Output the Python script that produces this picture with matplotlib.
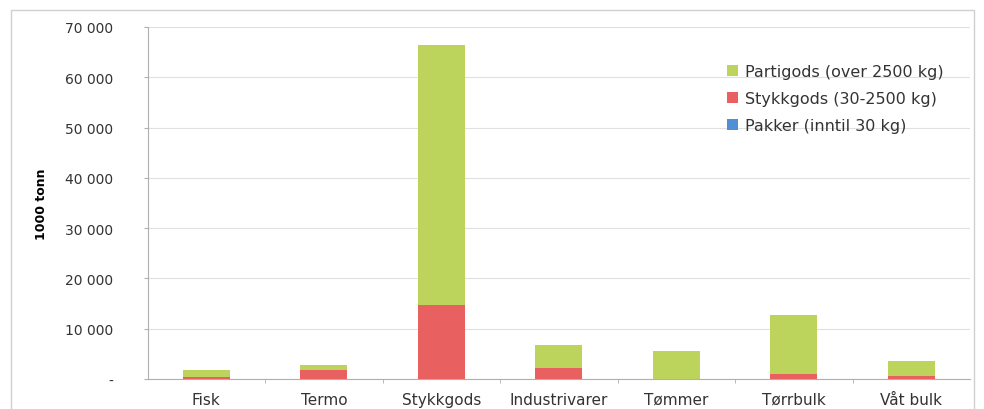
import matplotlib.pyplot as plt
from matplotlib.lines import Line2D

# Kategorier og verdier (1000 tonn)
kategorier = ["Fisk", "Termo", "Stykkgods", "Industrivarer", "Tømmer", "Tørrbulk", "Våt bulk"]
pakker = [10, 10, 20, 10, 5, 5, 5]
stykkgods = [450, 1850, 14700, 2100, 100, 1100, 650]
partigods = [1400, 950, 51700, 4700, 5400, 11600, 2850]

serier = ["Pakker (inntil 30 kg)", "Stykkgods (30-2500 kg)", "Partigods (over 2500 kg)"]
farger = ["#4f8fd6", "#e8605f", "#bcd35c"]
yticks = [0, 10000, 20000, 30000, 40000, 50000, 60000, 70000]

fig = plt.figure(figsize=(9.84, 4.1), dpi=100)
# ramme rundt diagrammet (bunnen er utenfor bildet)
ramme = Line2D([0.011, 0.011, 0.990, 0.990], [0.0, 0.972, 0.972, 0.0],
               transform=fig.transFigure, color="#d0d0d0", linewidth=1)
fig.lines.append(ramme)
ax = fig.add_axes([0.150, 0.073, 0.836, 0.859])

x = list(range(len(kategorier)))
bunn = [0] * len(x)
handles = []
for navn, verdier, farge in zip(serier, [pakker, stykkgods, partigods], farger):
    b = ax.bar(x, verdier, width=0.4, bottom=bunn, color=farge, label=navn, zorder=3)
    handles.append(b)
    bunn = [a + v for a, v in zip(bunn, verdier)]

ax.set_xlim(-0.5, len(x) - 0.5)
ax.set_ylim(0, 70000)
ax.set_yticks(yticks)
ax.set_yticklabels(["-"] + [f"{v:,}".replace(",", " ") for v in yticks[1:]])
ax.set_xticks(x)
ax.set_xticklabels(kategorier)
ax.set_xticks([i + 0.5 for i in x[:-1]], minor=True)
ax.tick_params(axis="x", which="major", length=0, pad=9, labelsize=11, colors="#333333")
ax.tick_params(axis="x", which="minor", length=3, color="#b0b0b0")
ax.tick_params(axis="y", length=3, color="#b0b0b0", labelsize=10, colors="#333333", pad=22)

ax.grid(axis="y", color="#e0e0e0", linewidth=0.8, zorder=0)
for s in ["top", "right"]:
    ax.spines[s].set_visible(False)
ax.spines["left"].set_color("#b0b0b0")
ax.spines["bottom"].set_color("#b0b0b0")

ax.set_ylabel("1000 tonn", fontsize=9, fontweight="bold", labelpad=12)

ax.legend(handles[::-1], serier[::-1], loc="upper right", bbox_to_anchor=(0.985, 0.935),
          frameon=False, fontsize=11.5, handlelength=0.7, handleheight=0.7,
          handletextpad=0.4, labelspacing=0.75, labelcolor="#333333")

plt.savefig("out.png", dpi=100)
